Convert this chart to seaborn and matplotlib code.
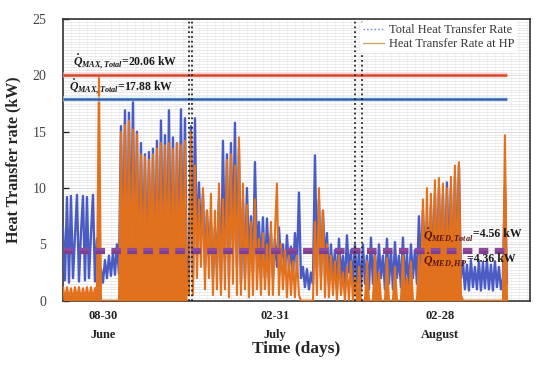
import numpy as np
import pandas as pd
import matplotlib
matplotlib.use("Agg")
import matplotlib.pyplot as plt
from matplotlib.lines import Line2D
from matplotlib.ticker import MultipleLocator
import seaborn as sns

# heat transfer rate samples (kW), one list per month
june_total = [6.5, 1.8, 9.2, 1.6, 9.3, 2.0, 5.8, 9.4, 1.7, 6.0, 9.3, 1.8, 9.2, 2.0, 5.9, 9.4, 1.7, 5.5,
              1.4, 2.8, 1.6, 3.6, 2.0, 4.0, 2.2, 4.3, 2.3, 5.0, 2.4,
              15.5, 3.0, 16.9, 1.0, 16.7, 4.0, 17.8, 2.0, 15.0, 1.0, 14.0, 3.0, 13.0, 2.0, 13.2, 1.5,
              13.5, 2.5, 14.2, 1.0, 16.0, 3.0, 14.7, 1.2, 16.9, 2.0, 14.5, 1.0, 14.0, 3.0, 17.0, 2.0,
              16.2, 1.5]
june_hp = [1.2, 0.1, 1.2, 0.2, 1.1, 0.1, 1.2, 0.2, 1.2, 0.1, 1.1, 0.2, 1.2, 0.1, 1.2, 0.2, 1.1, 1.2,
           20.0, 0, 0, 0, 0, 0, 0, 0, 0, 0, 0,
           15.0, 0.5, 15.6, 1.0, 16.0, 0.3, 15.2, 2.0, 14.8, 0.5, 13.0, 1.0, 12.8, 0.3, 12.5, 4.0,
           13.0, 0.5, 13.5, 1.0, 14.0, 0.5, 13.8, 2.0, 14.0, 0.3, 13.5, 1.0, 14.0, 0.5, 13.8, 2.0,
           14.2, 0.5]

july_total = [3.0, 15.5, 2.0, 16.2, 4.0, 10.5, 5.5, 9.5, 3.0, 8.0, 4.0, 7.0, 2.0, 6.5, 3.0, 9.0,
              1.5, 14.2, 3.5, 13.0, 2.0, 14.0, 5.0, 15.8, 3.0, 13.5, 1.5, 9.0, 2.0, 10.0, 3.5, 7.5,
              2.5, 12.3, 4.0, 7.0, 3.0, 7.4, 2.0, 7.3, 3.5, 6.0, 2.0, 5.5, 3.0, 6.5, 3.5, 5.0,
              2.5, 5.8, 3.0, 4.8, 2.0, 6.0, 3.0, 9.6, 2.0, 3.0, 1.2, 2.8, 1.0, 2.5, 1.5, 12.9,
              3.0, 9.0, 2.0, 8.0, 3.5, 6.0, 1.5, 5.0, 2.0, 4.5, 1.0, 5.5, 2.0, 4.0, 1.5, 5.8,
              2.5, 4.5, 1.5, 5.0]
july_hp = [0.5, 15.0, 0.5, 12.0, 2.0, 9.0, 3.0, 10.0, 1.0, 8.0, 2.0, 9.5, 0.5, 8.0, 1.0, 10.4,
           0.5, 9.0, 1.0, 12.5, 0.3, 13.0, 1.5, 12.0, 0.5, 14.5, 0.5, 10.4, 1.0, 8.5, 0.3, 7.0,
           0.5, 9.0, 1.0, 5.5, 0.5, 6.0, 1.0, 5.0, 0.5, 7.0, 0.5, 6.0, 10.4, 0.5, 5.0, 1.0,
           4.5, 0.3, 4.0, 0.5, 3.5, 0.3, 4.0, 0.5, 0, 0, 0, 0, 0, 0, 0, 7.0,
           0.5, 10.0, 1.0, 8.0, 0.3, 5.0, 0.3, 4.0, 0.5, 3.5, 0, 4.0, 0.5, 2.5, 0, 3.0,
           0, 3.5, 0, 2.0]

aug_total = [1.5, 4.5, 1.0, 5.0, 1.5, 4.0, 1.0, 5.6, 1.5, 4.5, 1.2, 5.0, 2.0, 4.0, 1.0, 5.5,
             1.5, 4.5, 1.0, 5.2, 2.0, 4.0, 1.2, 5.6, 1.5, 4.2, 1.0, 5.0, 2.0, 4.5, 1.5,
             7.5, 3.0, 8.0, 4.0, 7.0, 2.5, 8.5, 3.0, 9.5, 2.0, 10.0, 3.0, 9.5, 2.0, 10.5, 3.0,
             10.0, 2.0, 11.0, 3.0, 12.0, 2.0,
             3.5, 1.0, 3.2, 0.9, 3.6, 1.2, 3.0, 1.0, 3.5, 0.9, 3.4, 1.1, 3.6, 1.0, 3.2, 0.9,
             3.5, 1.2, 3.0, 1.0, 2.0, 10.1, 1.5]
aug_hp = [0, 3.0, 0, 0, 0, 3.5, 0, 0, 0, 4.0, 0, 2.5, 0, 0, 0, 3.8,
          0, 0, 0, 3.0, 0, 0, 0, 4.0, 0, 2.0, 0, 3.5, 0, 0, 0,
          4.0, 0.5, 9.0, 0.3, 10.0, 1.0, 9.5, 0.5, 10.7, 0.3, 10.9, 1.0, 10.4, 0.5, 10.0, 0.3,
          11.0, 0.5, 12.0, 1.0, 12.3, 0.5,
          0, 0, 0, 0, 0, 0, 0, 0, 0, 0, 0, 0, 0, 0, 0, 0,
          0, 0, 0, 0, 0, 14.7, 0]

# reference levels (kW)
q_max_total = 20.06
q_max_hp = 17.88
q_med_total = 4.56
q_med_hp = 4.36

# sample index of month boundaries (double dotted lines) and tick positions
month_breaks = [63.1, 64.5, 146.0, 149.3]
tick_pos = [20, 106, 188.5]
tick_labels = ["08-30\nJune", "02-31\nJuly", "02-28\nAugust"]

total = june_total + july_total + aug_total
hp = june_hp + july_hp + aug_hp
month = ["June"] * len(june_hp) + ["July"] * len(july_hp) + ["August"] * len(aug_hp)
df = pd.DataFrame({
    "t": np.concatenate([np.arange(len(total)), np.arange(len(hp))]),
    "rate": total + hp,
    "series": ["Total"] * len(total) + ["HP"] * len(hp),
    "month": month + month,
})
n_end = len(total) - 1

sns.set_theme(style="white")
plt.rcParams["font.family"] = ["Liberation Serif", "DejaVu Serif"]
plt.rcParams["mathtext.fontset"] = "custom"
plt.rcParams["mathtext.rm"] = "Liberation Serif:bold"
plt.rcParams["mathtext.it"] = "Liberation Serif:bold:italic"
plt.rcParams["mathtext.bf"] = "Liberation Serif:bold"

fig = plt.figure(figsize=(5.5, 3.68), dpi=100)
ax = fig.add_axes([0.1145, 0.183, 0.849, 0.765])

blue = "#4a5cc4"
orange = "#e2711d"

sns.lineplot(data=df[df.series == "Total"], x="t", y="rate", color=blue, estimator=None,
             sort=False, linewidth=1.7, legend=False, ax=ax, zorder=3)
hp_df = df[df.series == "HP"]
# the long HP runs in June and August read as solid blocks
for m in ["June", "August"]:
    seg = hp_df[hp_df.month == m]
    ax.fill_between(seg["t"], 0, seg["rate"], color=orange, lw=0, zorder=3.5)
sns.lineplot(data=hp_df, x="t", y="rate", color=orange, estimator=None,
             sort=False, linewidth=1.5, legend=False, ax=ax, zorder=3.6)

# max lines with soft glow
ax.hlines(q_max_total, 0, n_end, color="#f7c3c8", lw=4, alpha=0.6, zorder=4)
ax.hlines(q_max_total, 0, n_end, color="#d9482b", lw=1.8, zorder=5)
ax.hlines(q_max_hp, 0, n_end, color="#c6f2f3", lw=4, alpha=0.6, zorder=4)
ax.hlines(q_max_hp, 0, n_end, color="#3b5fae", lw=1.8, zorder=5)
# median lines
ax.hlines(q_med_total, 0, n_end, color="#8e4a9e", lw=2.3, ls=(0, (3, 2)), zorder=5)
ax.hlines(q_med_hp, 0, n_end, color="#7d3f8e", lw=2.3, ls=(0, (3, 2)), zorder=5)

for xb in month_breaks:
    ax.axvline(xb, color="#222222", lw=1.3, ls=":", zorder=6)

ax.set_xlim(0, 233.5)
ax.set_ylim(0, 25)
ax.yaxis.set_major_locator(MultipleLocator(5))
ax.yaxis.set_minor_locator(MultipleLocator(0.25))
ax.xaxis.set_minor_locator(MultipleLocator(4))
ax.grid(which="minor", axis="y", color="#e6e6e6", lw=0.6)
ax.grid(which="major", axis="y", color="#dcdcdc", lw=0.7)
ax.grid(which="minor", axis="x", color="#f0f0f0", lw=0.5)
ax.set_axisbelow(True)

ax.set_xticks(tick_pos)
ax.set_xticklabels(tick_labels, fontweight="bold", fontsize=9, linespacing=1.75, color="#222222")
ax.tick_params(axis="x", length=0, pad=7)
ax.tick_params(axis="y", which="major", direction="in", length=4, width=1, left=True,
               labelsize=10, labelcolor="#444444", pad=12)
ax.tick_params(axis="y", which="minor", length=0)
for sp in ax.spines.values():
    sp.set_color("#333333")
    sp.set_linewidth(1.2)

ax.set_xlabel("Time (days)", fontsize=12.5, fontweight="bold", labelpad=0)
ax.set_ylabel("Heat Transfer rate (kW)", fontsize=11.5, fontweight="bold", labelpad=8)

handles = [Line2D([], [], color="#6a7fd0", lw=1, ls=":"),
           Line2D([], [], color="#c9a86a", lw=1)]
leg = ax.legend(handles, ["Total Heat Transfer Rate", "Heat Transfer Rate at HP"],
                loc="upper right", bbox_to_anchor=(0.975, 0.995), fontsize=9, frameon=True,
                framealpha=1, edgecolor="none", facecolor="white", handlelength=1.7,
                borderpad=0.2, labelspacing=0.15, handletextpad=0.4, borderaxespad=0.1)
for txt in leg.get_texts():
    txt.set_color("#333333")
leg.set_zorder(10)

ax.text(5, 20.4, r"$\dot{Q}_{MAX,Total}$=20.06 kW", fontsize=8.5, fontweight="bold",
        color="#1a1a1a", va="bottom", zorder=8)
ax.text(3, 18.15, r"$\dot{Q}_{MAX,Total}$=17.88 kW", fontsize=8.5, fontweight="bold",
        color="#1a1a1a", va="bottom", zorder=8)

t1 = ax.text(180, 4.9, r"$\dot{Q}_{MED,Total}$", fontsize=8.5, color="#5a1515",
             va="bottom", zorder=8)
ax.annotate("=4.56 kW", xy=(1, 0.3), xycoords=t1, fontsize=8.5, fontweight="bold",
            color="#1a1a1a", va="bottom", ha="left", zorder=8)
t2 = ax.text(180, 2.7, r"$\dot{Q}_{MED,HP}$", fontsize=8.5, color="#5a1515",
             va="bottom", zorder=8)
ax.annotate("=4.36 kW", xy=(1, 0.3), xycoords=t2, fontsize=8.5, fontweight="bold",
            color="#1a1a1a", va="bottom", ha="left", zorder=8)

fig.savefig("out.png", dpi=100)
